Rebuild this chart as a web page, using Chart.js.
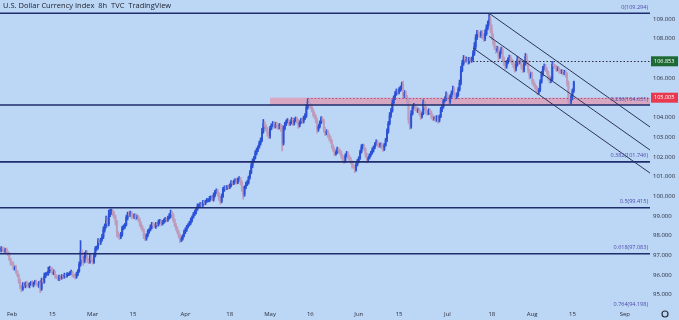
<!DOCTYPE html>
<html>
<head>
<meta charset="utf-8">
<script src="https://cdn.jsdelivr.net/npm/chart.js@4.4.0/dist/chart.umd.min.js"></script>
<style>
html, body { margin: 0; padding: 0; background: #bcd6f6; }
#wrap { position: relative; width: 679px; height: 320px; }
</style>
</head>
<body>
<div id="wrap"><canvas id="dxy" width="679" height="320"></canvas></div>
<script>
// 8h bars, index 0 = Jan 27 2022 (weekends skipped, 15 bars per week)
const firstOpen = 97.3;
const closes = [
    97.25, 97.35, 97.30, 97.20, 97.30, 97.15,
    97.05, 96.80, 96.60, 96.55, 96.35, 96.40, 96.15, 96.00, 95.70, 95.40, 95.30, 95.50, 95.45, 95.60, 95.50,
    95.45, 95.55, 95.60, 95.50, 95.60, 95.65, 95.55, 95.50, 95.60, 95.30, 95.75, 95.65, 95.95, 96.05, 96.05,
    96.20, 96.35, 96.30, 96.10, 96.15, 95.95, 95.90, 95.80, 95.90, 95.85, 95.95, 95.90, 96.00, 95.95, 96.05,
    96.05, 96.10, 96.15, 96.00, 95.95, 95.90, 96.05, 96.20, 96.55, 97.20, 96.80, 96.70, 96.95, 97.15, 96.75,
    96.70, 96.95, 96.75, 96.65, 97.00, 97.35, 97.40, 97.70, 97.65, 97.80, 97.95, 98.30, 98.50, 98.80, 98.60,
    99.05, 99.20, 99.25, 99.10, 98.95, 98.70, 98.15, 98.00, 97.95, 98.05, 98.40, 98.45, 98.55, 98.90, 99.10,
    99.05, 99.15, 99.00, 98.95, 99.05, 98.90, 98.95, 98.80, 98.60, 98.45, 98.30, 98.00, 97.85, 98.00, 98.20,
    98.30, 98.45, 98.60, 98.50, 98.45, 98.60, 98.55, 98.70, 98.75, 98.60, 98.70, 98.75, 98.85, 98.80, 98.90,
    99.00, 99.15, 99.05, 98.80, 98.55, 98.35, 98.20, 98.00, 97.80, 97.85, 98.00, 98.20, 98.30, 98.45, 98.55,
    98.65, 98.80, 98.95, 99.10, 99.20, 99.35, 99.50, 99.55, 99.60, 99.55, 99.70, 99.65, 99.75, 99.80, 99.80,
    99.90, 99.95, 99.85, 100.05, 100.20, 100.30, 100.10, 99.90, 99.75, 100.00, 100.35, 100.45, 100.40, 100.50, 100.45,
    100.55, 100.70, 100.65, 100.75, 100.80, 100.70, 100.85, 100.90, 100.70, 100.40, 100.10, 100.45, 100.60, 100.70, 100.95,
    101.20, 101.55, 101.80, 101.95, 102.20, 102.35, 102.50, 102.70, 102.85, 103.30, 103.70, 103.55, 103.40, 103.20, 103.05,
    103.45, 103.60, 103.70, 103.55, 103.65, 103.55, 103.50, 103.60, 103.45, 102.70, 103.45, 103.65, 103.80, 103.85, 103.70,
    103.75, 103.90, 103.70, 103.85, 103.95, 103.80, 103.60, 103.75, 103.90, 103.80, 103.95, 104.10, 104.50, 104.80, 104.65,
    104.55, 104.40, 104.20, 104.05, 103.85, 103.40, 103.55, 103.75, 103.95, 103.85, 103.40, 103.20, 103.30, 103.10, 102.95,
    102.80, 102.55, 102.35, 102.15, 102.25, 102.40, 102.30, 102.20, 102.05, 101.90, 101.80, 102.05, 102.20, 102.00, 101.90,
    101.75, 101.55, 101.50, 101.35, 101.60, 101.80, 101.95, 102.25, 102.50, 102.55, 102.40, 102.10, 101.85, 101.95, 102.10,
    102.20, 102.35, 102.50, 102.65, 102.75, 102.60, 102.55, 102.65, 102.50, 102.40, 102.60, 102.85, 103.30, 103.70, 104.10,
    104.35, 104.75, 105.00, 105.20, 105.35, 105.30, 105.40, 105.50, 105.65, 105.10, 105.25, 105.05, 104.80, 103.90, 103.55,
    104.20, 104.50, 104.60, 104.45, 104.35, 104.40, 104.25, 104.05, 104.20, 104.75, 104.50, 104.30, 104.20, 104.35, 104.25,
    104.05, 103.95, 104.00, 103.90, 104.00, 103.85, 104.05, 104.40, 104.55, 104.85, 104.95, 105.15, 105.00, 104.80, 105.05,
    105.25, 105.45, 105.15, 105.05, 105.15, 105.40, 105.75, 106.40, 106.75, 107.00, 106.90, 106.95, 106.80, 106.95, 106.90,
    106.95, 107.25, 107.60, 108.05, 108.30, 108.25, 108.15, 108.30, 108.10, 108.00, 108.25, 108.55, 108.75, 108.95, 108.50,
    108.10, 107.80, 107.55, 107.40, 107.50, 107.10, 107.30, 107.45, 107.00, 106.75, 106.60, 106.80, 106.95, 107.05, 106.90,
    106.80, 106.65, 106.45, 106.70, 106.95, 106.80, 106.85, 106.60, 106.40, 106.75, 107.10, 106.80, 106.40, 106.10, 106.20,
    105.85, 105.70, 105.55, 105.45, 105.30, 105.40, 105.80, 106.20, 106.50, 106.60, 106.45, 106.30, 106.05, 105.85, 105.95,
    106.70, 106.60, 106.55, 106.45, 106.50, 106.35, 106.30, 106.35, 106.25, 106.30, 106.15, 105.75, 104.85, 104.80, 105.05,
    105.35, 105.80
];
// wick length above / below the body, in hundredths of a point
const wickUp = [
    8,10,6,12,5,8,
    6,10,5,8,12,6,10,8,5,10,6,12,8,5,10,
    10,6,8,12,5,8,10,6,8,12,10,5,15,8,10,
    20,10,6,8,12,5,8,6,10,5,8,6,10,5,8,
    6,8,10,5,6,8,10,8,12,55,10,15,20,10,8,
    10,15,8,6,12,10,8,15,10,8,12,15,10,20,12,
    25,15,10,8,12,10,8,6,10,12,8,10,8,12,10,
    12,10,8,10,6,8,10,6,8,10,8,6,12,8,10,
    6,10,8,6,10,8,6,10,8,6,8,10,8,6,10,
    12,15,10,8,6,8,10,6,8,10,6,8,10,8,6,
    8,10,6,8,10,8,12,6,10,8,10,8,6,10,8,
    10,8,10,12,10,8,6,10,8,12,10,8,10,6,8,
    8,10,6,8,10,12,8,10,6,8,10,8,12,10,8,
    10,12,10,8,12,10,8,10,12,15,20,10,8,10,8,
    10,8,10,8,10,12,8,10,6,15,12,10,8,10,6,
    8,10,8,10,8,6,10,8,6,10,12,10,15,15,12,
    10,8,6,10,8,12,10,8,10,8,6,10,8,6,10,
    12,8,6,10,8,10,6,8,10,6,8,10,8,6,10,
    8,6,10,8,10,8,6,10,12,10,8,6,10,8,6,
    8,10,6,8,12,8,10,6,8,10,8,10,12,10,15,
    12,15,10,12,10,8,12,10,15,20,12,10,8,15,12,
    15,10,12,8,10,8,6,10,8,15,10,8,6,10,8,
    8,10,6,8,10,6,8,12,10,8,10,15,10,8,10,
    10,15,10,8,10,12,15,20,15,15,10,12,8,10,8,
    12,15,20,15,12,10,8,10,12,15,20,15,15,34,20,
    20,15,10,8,12,10,8,12,10,8,6,10,8,12,10,
    8,10,8,10,15,10,8,10,6,12,15,10,8,6,10,
    10,8,6,8,10,8,12,15,10,12,10,8,6,8,10,
    15,10,8,10,8,6,10,8,6,10,8,12,10,8,10,
    10,5
];
const wickDown = [
    6,8,10,5,8,10,
    8,6,10,5,8,10,6,8,12,10,15,8,6,10,8,
    8,10,6,8,10,6,8,10,12,20,8,10,6,8,6,
    6,8,10,6,8,10,8,6,8,10,6,8,6,8,6,
    8,6,8,10,8,10,6,8,6,10,15,20,8,10,12,
    12,10,8,10,6,8,10,8,12,10,8,10,12,10,15,
    10,8,12,10,8,15,20,12,15,10,8,10,8,6,10,
    10,8,12,10,8,10,6,8,12,10,8,15,10,8,6,
    8,6,10,8,6,8,10,6,8,10,6,8,6,10,8,
    6,10,8,12,10,8,10,12,15,10,8,6,10,8,6,
    6,8,10,6,8,10,6,8,10,6,8,10,8,6,8,
    8,10,6,10,8,6,10,12,15,8,6,10,8,6,10,
    6,8,10,6,8,10,6,8,12,15,25,10,8,6,8,
    8,6,10,8,6,10,8,6,10,8,10,12,10,15,12,
    10,8,6,10,8,10,12,8,15,40,10,8,6,8,10,
    10,8,12,8,6,10,15,8,6,10,8,6,10,8,15,
    10,12,15,10,12,20,10,8,6,10,15,12,8,10,12,
    10,12,8,10,6,8,10,8,12,10,15,8,6,10,8,
    10,12,8,15,8,6,10,8,6,10,8,12,15,8,6,
    8,6,10,8,6,10,8,6,10,12,8,6,8,10,8,
    10,8,6,10,8,12,10,8,10,15,10,12,10,20,15,
    10,8,6,10,8,10,12,15,8,6,10,12,8,6,10,
    12,10,8,12,10,15,8,6,10,8,6,10,12,15,8,
    10,8,12,15,10,8,6,10,8,10,12,8,10,8,10,
    10,8,10,12,10,15,10,8,12,15,10,8,10,8,20,
    15,12,10,15,8,20,10,8,15,12,15,10,8,6,10,
    10,12,15,8,10,12,8,15,12,8,10,15,12,15,10,
    15,12,10,12,15,10,8,6,10,8,12,10,15,12,8,
    8,10,6,12,8,10,6,8,10,8,10,15,20,12,10,
    15,8
];

// x axis: bar index of the first bar of each labelled date
const dateTicks = [9, 39, 69, 99, 138, 171, 201, 231, 267, 297, 333, 366, 396, 426, 465];
const dateLabels = ['Feb', '15', 'Mar', '15', 'Apr', '18', 'May', '16', 'Jun', '15', 'Jul', '18', 'Aug', '15', 'Sep'];
const priceTicks = [95, 96, 97, 98, 99, 100, 101, 102, 103, 104, 106, 108, 109];

// drawings
const fibLevels = [109.294, 104.631, 101.746, 99.415, 97.083, 94.198];
const fibRatios = ['0', '0.236', '0.382', '0.5', '0.618', '0.764'];
const zoneStart = 201, zoneTop = 105.005, zoneBottom = 104.631, zoneDotStart = 229;
const resistStart = 352, resistLevel = 106.853;
const channelFrom = [364, 109.29];
const channelTo = [483.7, 103.52];
const channelOffsets = [0, -1.17, -2.34];
const channelStarts = [364, 364, 352];

const X_MIN = 0.07, X_MAX = 483.7;
const UP = '#2b52d6', DOWN = '#bf9bbb';

// build candle tables
const opens = closes.map((c, i) => i === 0 ? firstOpen : closes[i - 1]);
const bodies = closes.map((c, i) => ({ x: i, y: [opens[i], c] }));
const wicks = closes.map((c, i) => ({
    x: i,
    y: [Math.min(opens[i], c) - (wickDown[i] || 0) / 100, Math.max(opens[i], c) + (wickUp[i] || 0) / 100]
}));
const candleColors = closes.map((c, i) => c >= opens[i] ? UP : DOWN);

const slope = (channelTo[1] - channelFrom[1]) / (channelTo[0] - channelFrom[0]);
const channelSets = channelOffsets.map((off, k) => {
    const x0 = channelStarts[k];
    return {
        type: 'line',
        data: [
            { x: x0, y: channelFrom[1] + (x0 - channelFrom[0]) * slope + off },
            { x: channelTo[0], y: channelTo[1] + off }
        ],
        borderColor: '#2c3658',
        borderWidth: 1,
        pointRadius: 0,
        tension: 0
    };
});

const overlay = {
    id: 'overlay',
    beforeDraw(chart) {
        const ctx = chart.ctx;
        ctx.save();
        ctx.fillStyle = '#bcd6f6';
        ctx.fillRect(0, 0, chart.width, chart.height);
        ctx.restore();
    },
    beforeDatasetsDraw(chart) {
        const { ctx, chartArea: a, scales: { x, y } } = chart;
        ctx.save();
        const zx = x.getPixelForValue(zoneStart);
        const zt = y.getPixelForValue(zoneTop);
        const zb = y.getPixelForValue(zoneBottom);
        ctx.fillStyle = 'rgba(238,130,152,0.55)';
        ctx.fillRect(zx, zt, a.right - zx, zb - zt);
        ctx.restore();
    },
    afterDatasetsDraw(chart) {
        const { ctx, chartArea: a, scales: { x, y } } = chart;
        ctx.save();
        ctx.beginPath();
        ctx.rect(a.left, a.top, a.right - a.left, a.bottom - a.top);
        ctx.clip();

        // dotted lines
        ctx.setLineDash([1.5, 2]);
        ctx.lineWidth = 1;
        ctx.strokeStyle = '#2d2f3e';
        const ry = Math.round(y.getPixelForValue(resistLevel)) + 0.5;
        ctx.beginPath();
        ctx.moveTo(x.getPixelForValue(resistStart), ry);
        ctx.lineTo(a.right, ry);
        ctx.stroke();

        ctx.strokeStyle = '#a8507e';
        const zy = Math.round(y.getPixelForValue(zoneTop)) + 0.5;
        ctx.beginPath();
        ctx.moveTo(x.getPixelForValue(zoneDotStart), zy);
        ctx.lineTo(a.right, zy);
        ctx.stroke();
        ctx.setLineDash([]);

        // fib levels
        ctx.strokeStyle = '#1f2d6c';
        ctx.lineWidth = 1.6;
        fibLevels.forEach(v => {
            const py = y.getPixelForValue(v);
            ctx.beginPath();
            ctx.moveTo(a.left, py);
            ctx.lineTo(a.right, py);
            ctx.stroke();
        });
        ctx.restore();

        ctx.save();
        ctx.font = '5.5px "Open Sans"';
        ctx.fillStyle = '#4a4aa6';
        ctx.textAlign = 'right';
        ctx.textBaseline = 'middle';
        fibLevels.forEach((v, k) => {
            const py = y.getPixelForValue(v);
            ctx.fillText(fibRatios[k] + '(' + v.toFixed(3) + ')', a.right - 2, py - 6);
        });
        ctx.restore();
    },
    afterDraw(chart) {
        const { ctx, chartArea: a, scales: { y } } = chart;
        ctx.save();
        // title
        ctx.font = '7.5px "Open Sans"';
        ctx.fillStyle = '#20242e';
        ctx.textBaseline = 'middle';
        ctx.fillText('U.S. Dollar Currency Index  8h  TVC  TradingView', 3, 6);

        // price tags on the axis
        ctx.font = '5.5px "Open Sans"';
        [[resistLevel, '#1d6a34'], [zoneTop, '#e8394f']].forEach(([v, col]) => {
            const py = y.getPixelForValue(v);
            ctx.fillStyle = col;
            ctx.fillRect(a.right + 1, py - 5, 27, 10);
            ctx.fillStyle = '#ffffff';
            ctx.fillText(v.toFixed(3), a.right + 4, py);
        });

        // settings gear
        ctx.strokeStyle = '#2a2e39';
        ctx.lineWidth = 1.2;
        ctx.beginPath();
        ctx.arc(665, 314, 3, 0, Math.PI * 2);
        ctx.stroke();
        ctx.restore();
    }
};

new Chart(document.getElementById('dxy'), {
    type: 'bar',
    data: {
        datasets: [
            ...channelSets,
            {
                data: bodies,
                backgroundColor: candleColors,
                barThickness: 1.3,
                grouped: false
            },
            {
                data: wicks,
                backgroundColor: candleColors,
                barThickness: 1,
                grouped: false
            }
        ]
    },
    options: {
        responsive: false,
        animation: false,
        devicePixelRatio: 1,
        layout: { padding: 0 },
        plugins: { legend: { display: false }, tooltip: { enabled: false } },
        scales: {
            x: {
                type: 'linear',
                min: X_MIN,
                max: X_MAX,
                offset: false,
                grid: { display: false, drawTicks: false },
                border: { display: false },
                afterFit: s => { s.height = 11; s.paddingLeft = 0; s.paddingRight = 0; },
                afterBuildTicks: s => { s.ticks = dateTicks.map(v => ({ value: v })); },
                ticks: {
                    padding: 2,
                    maxRotation: 0,
                    autoSkip: false,
                    color: '#2a2e39',
                    font: { family: 'Open Sans', size: 6 },
                    callback: v => dateLabels[dateTicks.indexOf(v)]
                }
            },
            y: {
                position: 'right',
                min: 94.279,
                max: 109.9645,
                grid: { display: false, drawTicks: false },
                border: { display: false },
                afterFit: s => { s.width = 29; s.paddingTop = 0; s.paddingBottom = 0; },
                afterBuildTicks: s => { s.ticks = priceTicks.map(v => ({ value: v })); },
                ticks: {
                    padding: 3,
                    color: '#2a2e39',
                    font: { family: 'Open Sans', size: 6 },
                    callback: v => v.toFixed(3)
                }
            }
        }
    },
    plugins: [overlay]
});
</script>
</body>
</html>
